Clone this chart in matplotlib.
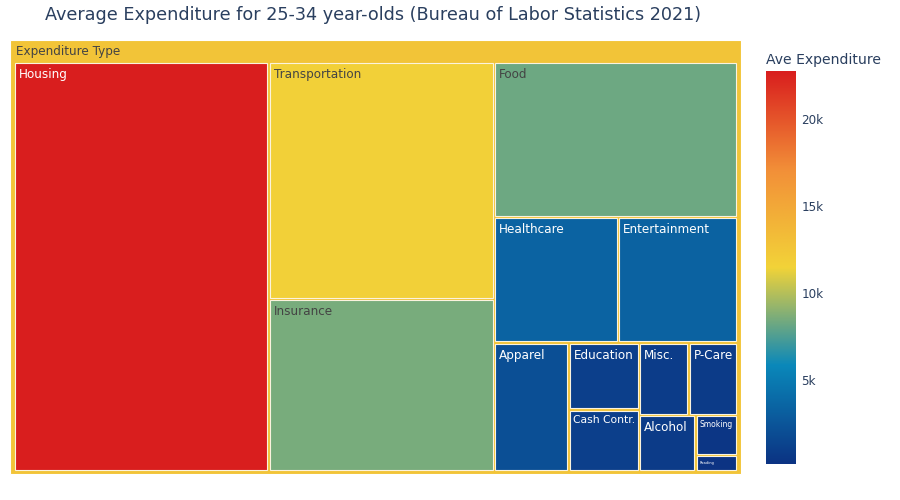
import matplotlib
matplotlib.use("Agg")
import matplotlib.pyplot as plt
from matplotlib.colors import LinearSegmentedColormap, to_rgb
from matplotlib.patches import Rectangle
import numpy as np

# ---- data ----
categories = ["Housing", "Transportation", "Insurance", "Food", "Healthcare",
              "Entertainment", "Apparel", "Education", "Cash Contr.", "Misc.",
              "P-Care", "Alcohol", "Smoking", "Reading"]
expenditure = [22768, 11657, 8476, 8223, 3398, 3278, 2086, 1024, 950, 783,
               764, 694, 365, 150]
root_label = "Expenditure Type"
title = "Average Expenditure for 25-34 year-olds (Bureau of Labor Statistics 2021)"
cbar_title = "Ave Expenditure"
cbar_ticks = [5000, 10000, 15000, 20000]
cbar_ticklabels = ["5k", "10k", "15k", "20k"]

FONT = ["DejaVu Sans"]
PX = 72 / 100.0  # points per pixel at dpi 100
TXT = "#2a3f5f"

portland = LinearSegmentedColormap.from_list(
    "portland",
    [(0.0, "#0c3383"), (0.25, "#0a88ba"), (0.5, "#f2d338"),
     (0.75, "#f28f38"), (1.0, "#d91e1e")])
vmin, vmax = min(expenditure), max(expenditure)


def cval(v):
    return portland((v - vmin) / (vmax - vmin))


def squarify(values, x0, y0, x1, y1, ratio=1.0):
    """d3-hierarchy squarify tiling; returns list of (x0, y0, x1, y1)."""
    rects = [None] * len(values)
    n = len(values)
    i0 = i1 = 0
    value = float(sum(values))
    while i0 < n:
        dx, dy = x1 - x0, y1 - y0
        sumv = values[i1]
        i1 += 1
        minv = maxv = sumv
        alpha = max(dy / dx, dx / dy) / (value * ratio)
        beta = sumv * sumv * alpha
        minratio = max(maxv / beta, beta / minv)
        while i1 < n:
            nv = values[i1]
            s2 = sumv + nv
            mn = min(minv, nv)
            mx = max(maxv, nv)
            beta = s2 * s2 * alpha
            nr = max(mx / beta, beta / mn)
            if nr > minratio:
                break
            sumv, minv, maxv, minratio = s2, mn, mx, nr
            i1 += 1
        row = list(range(i0, i1))
        if dx < dy:  # dice: row across x
            ny = y0 + dy * sumv / value
            xx = x0
            for i in row:
                w = (x1 - x0) * values[i] / sumv
                rects[i] = (xx, y0, xx + w, ny)
                xx += w
            y0 = ny
        else:  # slice: column across y
            nx = x0 + dx * sumv / value
            yy = y0
            for i in row:
                h = (y1 - y0) * values[i] / sumv
                rects[i] = (x0, yy, nx, yy + h)
                yy += h
            x0 = nx
        value -= sumv
        i0 = i1
    return rects


fig = plt.figure(figsize=(9, 5), dpi=100)
ax = fig.add_axes([0, 0, 1, 1])
ax.set_xlim(0, 900)
ax.set_ylim(500, 0)
ax.axis("off")

# root box
root_val = sum(v * v for v in expenditure) / sum(expenditure)
R = (10, 40, 741, 474)
ax.add_patch(Rectangle((R[0], R[1]), R[2] - R[0], R[3] - R[1],
                       facecolor=cval(root_val), edgecolor="white", lw=0.8))
ax.text(R[0] + 6, R[1] + 11, root_label, ha="left", va="center",
        fontsize=12 * PX, color="#444444", family=FONT)

pad = 1.25
tiles = squarify(expenditure, R[0] + 5 - pad, 63 - pad, R[2] - 5 + pad, R[3] - 4 + pad)
fig.canvas.draw()
renderer = fig.canvas.get_renderer()
for lab, v, (a, b, c, d) in zip(categories, expenditure, tiles):
    a, b, c, d = a + pad, b + pad, c - pad, d - pad
    col = cval(v)
    ax.add_patch(Rectangle((a, b), c - a, d - b, facecolor=col,
                           edgecolor="#fbf3de", lw=0.8))
    r, g, bb = to_rgb(col)
    lum = 0.299 * r + 0.587 * g + 0.114 * bb
    tcol = "white" if lum < 0.5 else "#444444"
    fs = 12 * PX
    t = ax.text(a + 4, b + 5, lab, ha="left", va="top", fontsize=fs,
                color=tcol, family=FONT)
    bbox = t.get_window_extent(renderer)
    s = min(1.0, (c - a - 6) / bbox.width, (d - b - 10) / bbox.height)
    if s < 1.0:
        t.set_fontsize(fs * s)
        if (d - b - 10) / bbox.height < (c - a - 6) / bbox.width:
            t.set_va("center")
            t.set_position((a + 3, (b + d) / 2))
        else:
            t.set_position((a + 3, b + 2 + 3 * s))

fig.text(45 / 900, 1 - 15 / 500, title, ha="left", va="center",
         fontsize=17.6 * PX, color=TXT, family=FONT)

# colorbar
cax = fig.add_axes([766 / 900, (500 - 464) / 500, 30 / 900, (464 - 71) / 500])
grad = np.linspace(vmin, vmax, 256).reshape(-1, 1)
cax.imshow(grad, aspect="auto", cmap=portland, origin="lower",
           extent=[0, 1, vmin, vmax], vmin=vmin, vmax=vmax)
cax.set_xticks([])
cax.yaxis.tick_right()
cax.set_yticks(cbar_ticks)
cax.set_yticklabels(cbar_ticklabels, fontsize=12 * PX, color=TXT, family=FONT)
cax.tick_params(axis="y", length=0, pad=4)
for sp in cax.spines.values():
    sp.set_visible(False)
fig.text(766 / 900, 1 - 60 / 500, cbar_title, ha="left", va="center",
         fontsize=14 * PX, color=TXT, family=FONT)

fig.savefig("out.png", dpi=100, facecolor="white")
